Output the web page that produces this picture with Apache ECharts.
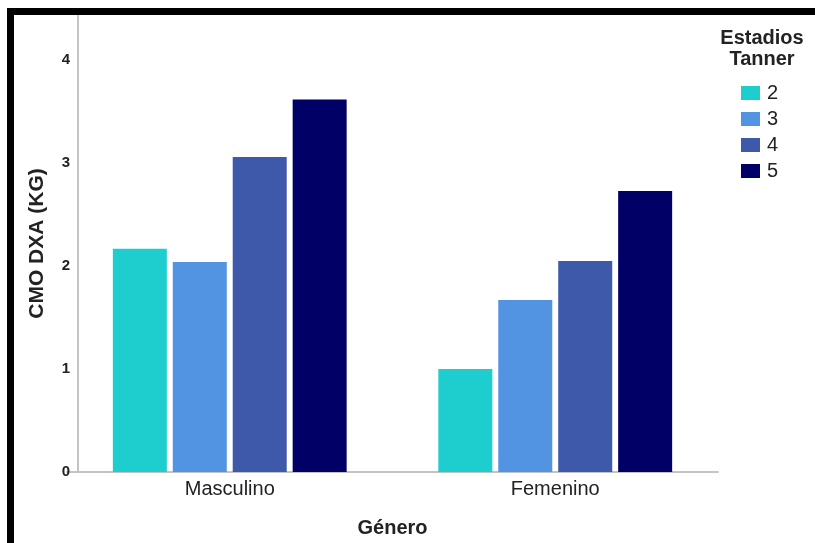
<!DOCTYPE html>
<html><head><meta charset="utf-8">
<script src="https://cdn.jsdelivr.net/npm/echarts@6/dist/echarts.min.js"></script>
<style>html,body{margin:0;padding:0;background:#fff}#c{width:815px;height:543px}</style>
</head><body><div id="c"></div>
<script>
const categories = ['Masculino', 'Femenino'];
const seriesNames = ['2', '3', '4', '5'];
const values2 = [2.17, 1.00];
const values3 = [2.04, 1.67];
const values4 = [3.06, 2.05];
const values5 = [3.62, 2.73];
const colors = ['#1ECECE', '#5294E2', '#3E59AA', '#000066'];
const allValues = [values2, values3, values4, values5];

const chart = echarts.init(document.getElementById('c'), null, {renderer: 'canvas'});
chart.setOption({
  animation: false,
  backgroundColor: '#fff',
  textStyle: {fontFamily: 'Liberation Sans, Arial, sans-serif'},
  title: {
    text: 'Estadios\nTanner',
    left: 757, top: 23, textAlign: 'center',
    textStyle: {fontSize: 20, fontWeight: 'bold', color: '#222', lineHeight: 21}
  },
  legend: {
    orient: 'vertical', left: 736, top: 78,
    itemWidth: 19, itemHeight: 14, itemGap: 6,
    icon: 'rect',
    textStyle: {fontSize: 20, color: '#222', padding: [0, 0, 0, 2]},
    data: seriesNames
  },
  grid: {left: 67, right: 97, top: 15, bottom: 68},
  xAxis: {
    type: 'category', data: categories,
    axisLine: {lineStyle: {color: '#c4c4c4', width: 2}},
    axisTick: {show: false},
    axisLabel: {fontSize: 20, color: '#222', margin: 7},
    name: 'Género', nameLocation: 'middle', nameGap: 46,
    nameTextStyle: {fontSize: 20, fontWeight: 'bold', color: '#222'}
  },
  yAxis: {
    type: 'value', min: 0, max: 4.44, interval: 1, offset: -11,
    axisLine: {show: true, lineStyle: {color: '#c4c4c4', width: 2}},
    axisTick: {show: false},
    splitLine: {show: false},
    axisLabel: {fontSize: 15, fontWeight: 'bold', color: '#222', margin: 8,
      showMaxLabel: false},
    name: 'CMO DXA (KG)', nameLocation: 'middle', nameGap: 30,
    nameTextStyle: {fontSize: 21, fontWeight: 'bold', color: '#222'}
  },
  series: seriesNames.map((n, i) => ({
    name: n, type: 'bar', data: allValues[i],
    barWidth: 54, barGap: '11%',
    itemStyle: {color: colors[i]}
  })),
  graphic: [
    {type: 'rect', shape: {x: 7, y: 8, width: 808, height: 7}, style: {fill: '#000'}, z: 100},
    {type: 'rect', shape: {x: 7, y: 8, width: 7, height: 535}, style: {fill: '#000'}, z: 100}
  ]
});
</script></body></html>
